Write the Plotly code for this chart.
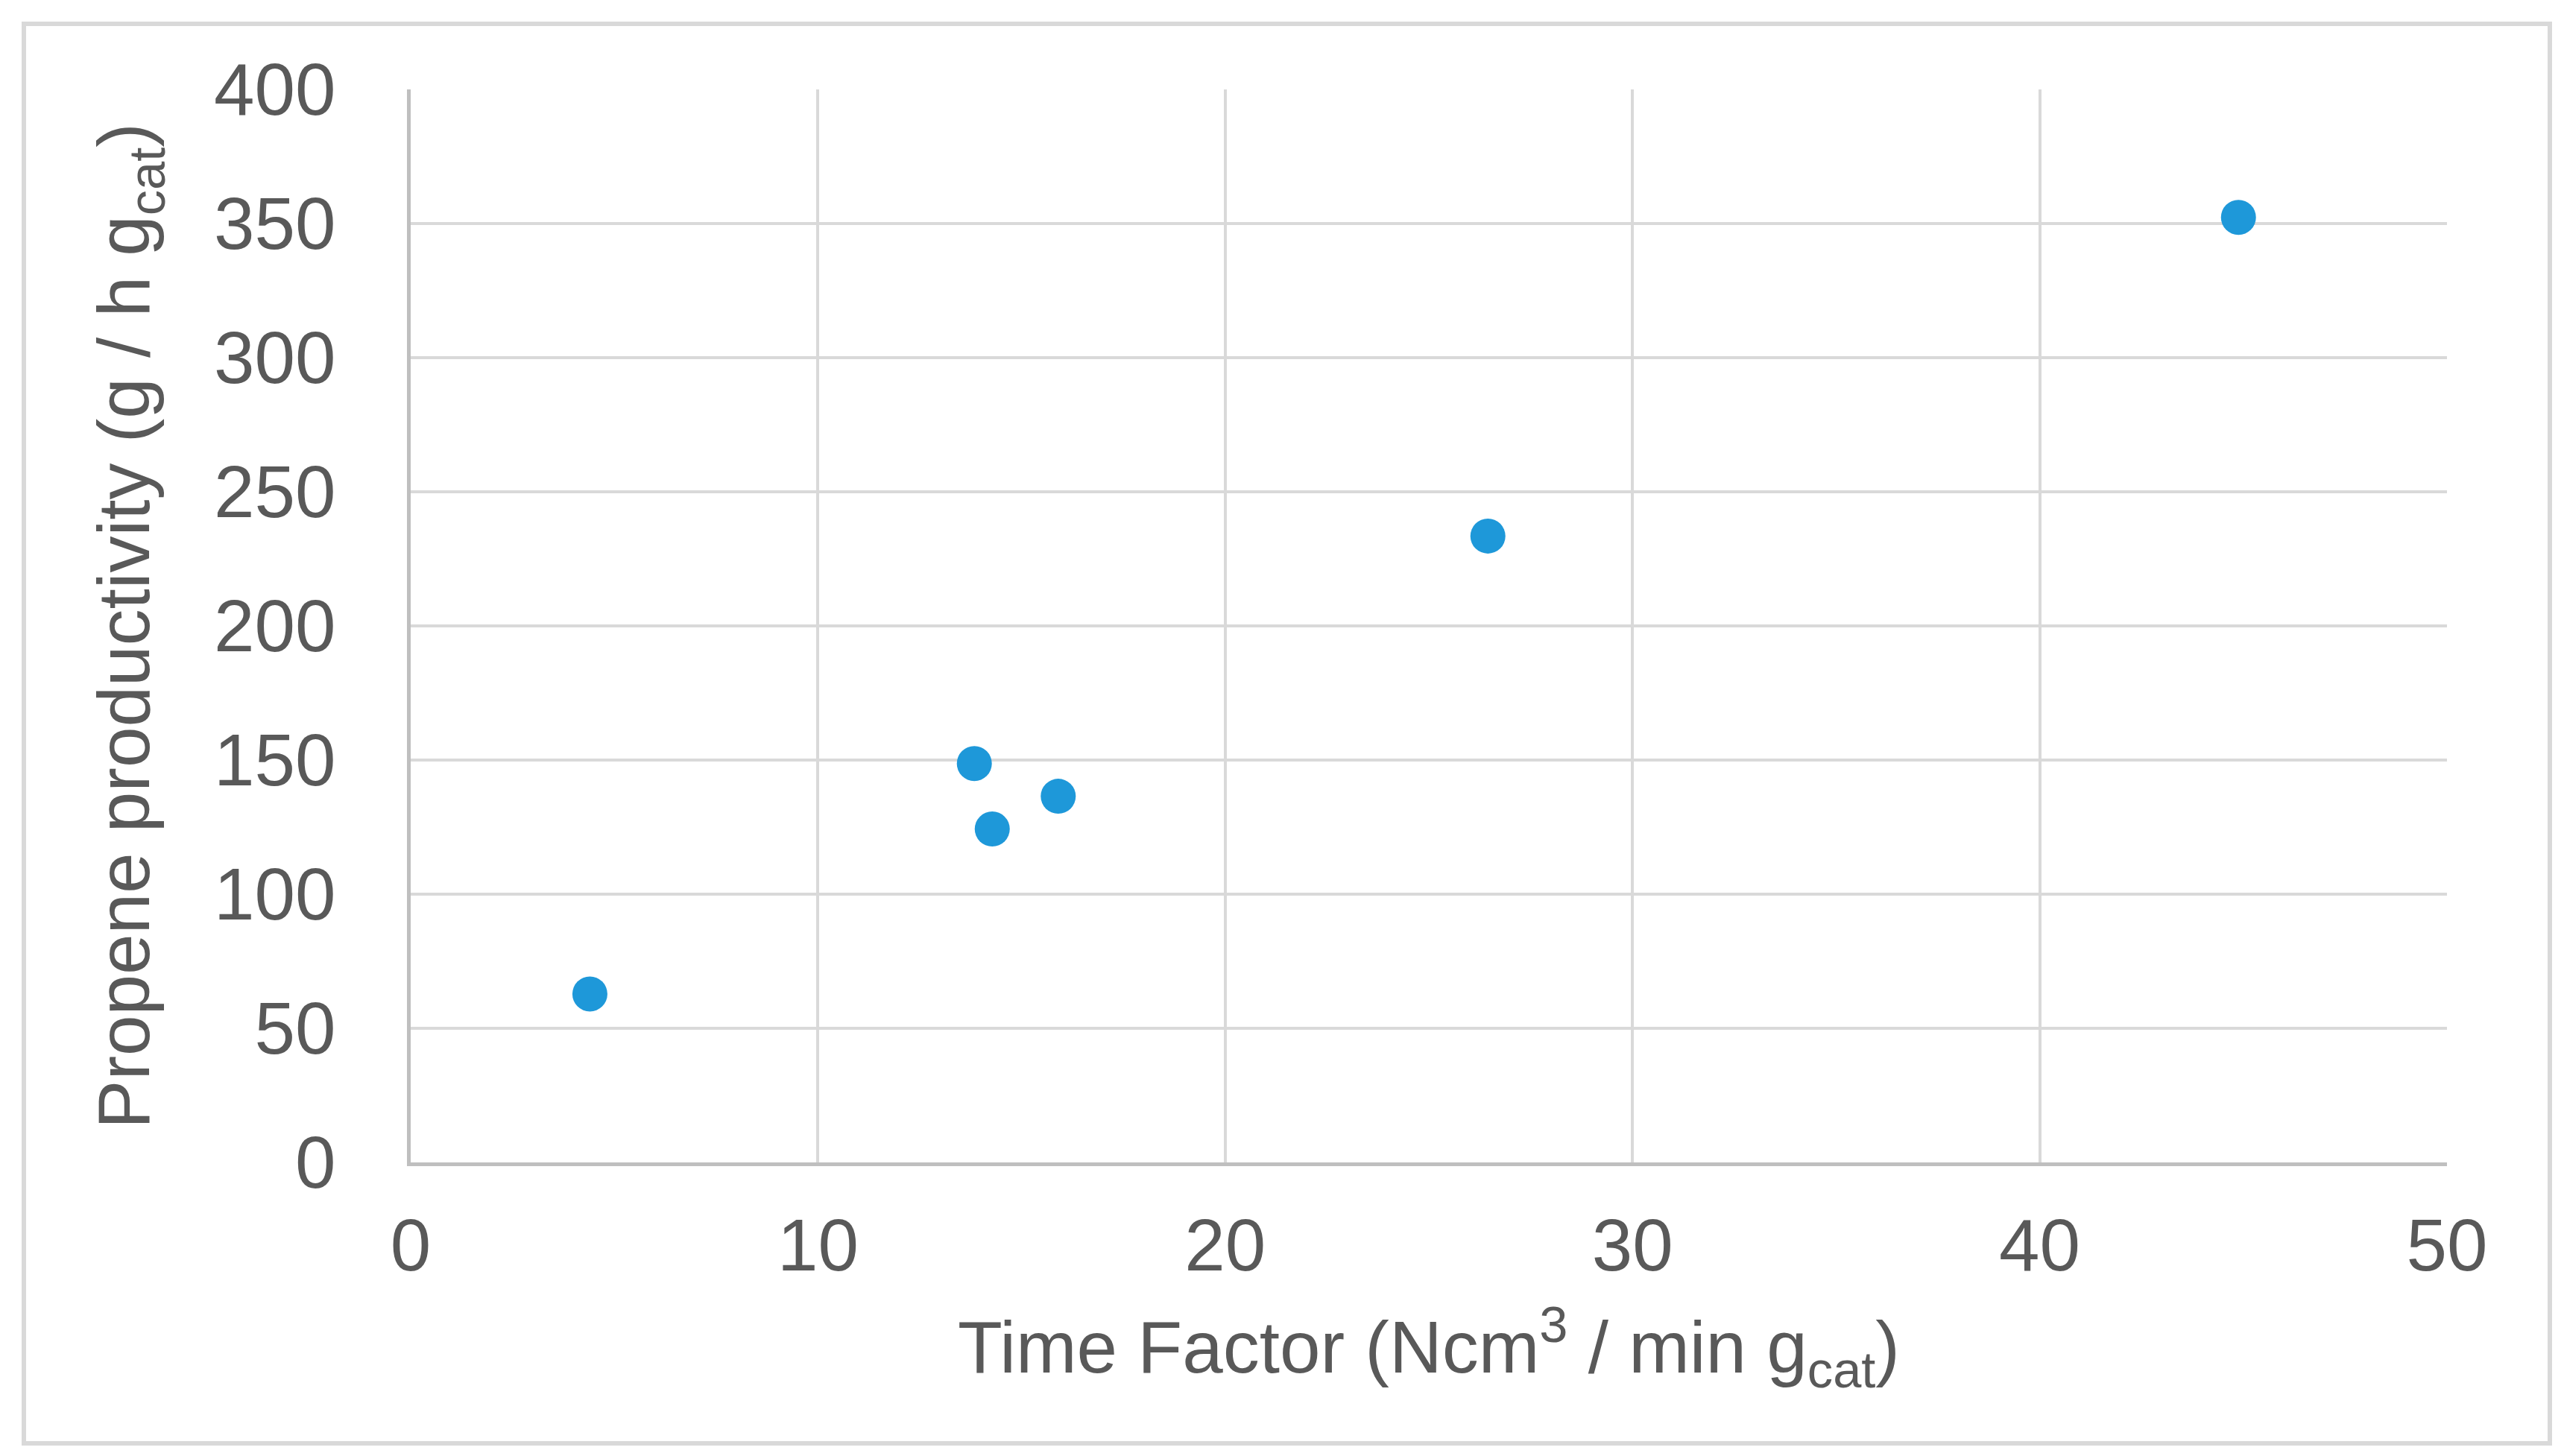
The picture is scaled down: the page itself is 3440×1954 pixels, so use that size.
import plotly.graph_objects as go

time_factor = [4.4, 13.84, 14.28, 15.9, 26.45, 44.88]
productivity = [62.8, 148.7, 124.3, 136.5, 233.5, 352.3]

x_ticks = [0, 10, 20, 30, 40, 50]
y_ticks = [0, 50, 100, 150, 200, 250, 300, 350, 400]

W, H = 3440, 1954
L, R, T, B = 543, 165, 112, 402

fig = go.Figure()
fig.add_trace(go.Scatter(
    x=time_factor, y=productivity, mode="markers",
    marker=dict(size=47, color="#1E98D9", line=dict(width=0)),
    showlegend=False, cliponaxis=False,
))

font = dict(family="Liberation Sans, Arial, sans-serif", size=98, color="#595959")

fig.update_layout(
    width=W, height=H,
    margin=dict(l=L, r=R, t=T, b=B),
    paper_bgcolor="white", plot_bgcolor="white",
    font=font,
    xaxis=dict(
        range=[0, 50], tickvals=x_ticks, ticktext=[str(v) for v in x_ticks],
        showgrid=True, gridcolor="#d9d9d9", gridwidth=4,
        zeroline=False, showline=True, linecolor="#bfbfbf", linewidth=5,
        ticks="", ticklabelstandoff=22,
        title=dict(text="Time Factor (Ncm<sup>3</sup> / min g<sub>cat</sub>)", standoff=50,
                   font=font),
    ),
    yaxis=dict(
        range=[0, 400], tickvals=y_ticks, ticktext=[str(v) for v in y_ticks],
        showgrid=True, gridcolor="#d9d9d9", gridwidth=4,
        zeroline=False, showline=True, linecolor="#bfbfbf", linewidth=5,
        ticks="", ticklabelstandoff=76,
        title=dict(text="Propene productivity (g / h g<sub>cat</sub>)", standoff=55,
                   font=font),
    ),
    shapes=[
        dict(type="rect", xref="paper", yref="paper",
             x0=(24 - L) / (W - L - R), x1=(3413 - L) / (W - L - R),
             y0=(H - B - 1929) / (H - T - B), y1=(H - B - 24) / (H - T - B),
             line=dict(color="#d9d9d9", width=6), fillcolor="rgba(0,0,0,0)"),
    ],
)

fig.write_html("out.html")
